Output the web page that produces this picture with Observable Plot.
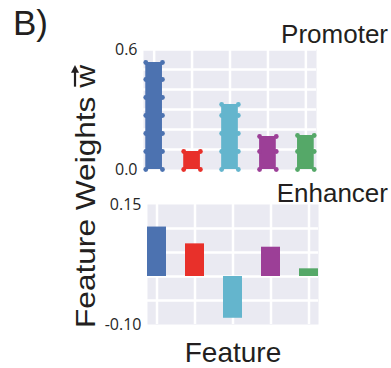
<!DOCTYPE html>
<html>
<head>
<meta charset="utf-8">
<script src="https://cdn.jsdelivr.net/npm/d3@7"></script>
<script src="https://cdn.jsdelivr.net/npm/@observablehq/plot@0.6"></script>
<style>
  html, body { margin: 0; padding: 0; background: #fff; }
  #fig { position: relative; width: 391px; height: 368px; overflow: hidden; }
  #fig > svg { position: absolute; left: 0; }
</style>
</head>
<body>
<div id="fig"></div>
<script>
// Feature weights per feature, for the two regulatory regions
const features = ["f1", "f2", "f3", "f4", "f5"];
const colors = ["#4C72B0", "#E8302A", "#64B5CD", "#9C3F97", "#55A868"];
const promoterWeights = [0.535, 0.09, 0.325, 0.165, 0.17];
const enhancerWeights = [0.103, 0.068, -0.087, 0.061, 0.016];

// Axis tick labels and grid positions
const promoterTicks = [0, 0.6];
const promoterGrid = [0.1, 0.2, 0.3, 0.4, 0.5, 0.6];
const enhancerTicks = [-0.10, 0.15];
const enhancerGrid = [-0.05, 0, 0.05, 0.10];
const featureGrid = [0, 1, 2, 3, 4];

const promoter = features.map((f, i) => ({i, feature: f, value: promoterWeights[i], color: colors[i]}));
const enhancer = features.map((f, i) => ({i, feature: f, value: enhancerWeights[i], color: colors[i]}));

// marker dots along the edges of each promoter bar
const halfP = 0.22;
const bumps = [];
for (const d of promoter) {
  const ys = [];
  for (let k = 0; k * 0.09 < d.value - 0.04; k++) ys.push(k * 0.09);
  ys.push(d.value);
  for (const y of ys) {
    bumps.push({x: d.i - halfP, y, color: d.color});
    bumps.push({x: d.i + halfP, y, color: d.color});
  }
}

const axisStyle = {fontFamily: "'Open Sans', sans-serif", fontSize: "16px", color: "#262626", background: "transparent"};
const bg = "#EAEAF2";

const promoterPlot = Plot.plot({
  width: 391, height: 180,
  marginLeft: 143, marginRight: 75, marginTop: 49, marginBottom: 11,
  style: axisStyle,
  x: {domain: [-0.28, 4.28], axis: null},
  y: {domain: [0, 0.6], ticks: promoterTicks, tickFormat: d => d.toFixed(1), tickSize: 0, tickPadding: 6, label: null},
  color: {type: "identity"},
  marks: [
    Plot.frame({fill: bg, stroke: null}),
    Plot.gridY(promoterGrid, {stroke: "white", strokeOpacity: 1, strokeWidth: 2.5}),
    Plot.gridX(featureGrid, {stroke: "white", strokeOpacity: 1, strokeWidth: 2.5}),
    Plot.rect(promoter, {x1: d => d.i - halfP, x2: d => d.i + halfP, y1: 0, y2: "value", fill: "color"}),
    Plot.dot(bumps, {x: "x", y: "y", r: 2.4, fill: "color", stroke: null})
  ]
});
promoterPlot.style.top = "0px";

const halfE = 0.25;
const enhancerPlot = Plot.plot({
  width: 391, height: 150,
  marginLeft: 147, marginRight: 73, marginTop: 14, marginBottom: 16,
  style: axisStyle,
  x: {domain: [-0.25, 4.25], axis: null},
  y: {domain: [-0.10, 0.15], ticks: enhancerTicks, tickFormat: d => d.toFixed(2), tickSize: 0, tickPadding: 6, label: null},
  color: {type: "identity"},
  marks: [
    Plot.frame({fill: bg, stroke: null}),
    Plot.gridY(enhancerGrid, {stroke: "white", strokeOpacity: 1, strokeWidth: 2.5}),
    Plot.gridX(featureGrid, {stroke: "white", strokeOpacity: 1, strokeWidth: 2.5}),
    Plot.rect(enhancer, {x1: d => d.i - halfE, x2: d => d.i + halfE, y1: 0, y2: "value", fill: "color"})
  ]
});
enhancerPlot.style.top = "190px";

const fig = document.getElementById("fig");
fig.appendChild(promoterPlot);
fig.appendChild(enhancerPlot);

// Panel letter, panel titles and shared axis labels
const svg = d3.select(fig).append("svg")
  .attr("width", 391).attr("height", 368)
  .style("top", "0px")
  .style("pointer-events", "none")
  .attr("font-family", "'Liberation Sans', Arial, sans-serif")
  .attr("fill", "#231F20");

svg.append("text").attr("x", 13).attr("y", 35).attr("font-size", 35).text("B)");
svg.append("text").attr("x", 388).attr("y", 43).attr("font-size", 26).attr("text-anchor", "end").text("Promoter");
svg.append("text").attr("x", 388).attr("y", 202).attr("font-size", 26).attr("text-anchor", "end").text("Enhancer");
svg.append("text").attr("x", 233).attr("y", 362).attr("font-size", 28).attr("text-anchor", "middle").text("Feature");

const g = svg.append("g").attr("transform", "translate(95,328) rotate(-90) scale(1.13,1)");
const ylab = g.append("text").attr("x", 0).attr("y", 0).attr("font-size", 28).text("Feature Weights w");
// vector arrow over the w
const node = ylab.node();
const wi = 16;
const x0 = node.getStartPositionOfChar(wi).x;
const x1 = node.getEndPositionOfChar(wi).x;
const ay = -20;
g.append("line").attr("x1", x0 + 1).attr("x2", x1 - 5).attr("y1", ay).attr("y2", ay)
  .attr("stroke", "#231F20").attr("stroke-width", 2.2);
g.append("path").attr("d", `M${x1 - 7},${ay - 4}L${x1},${ay}L${x1 - 7},${ay + 4}Z`).attr("fill", "#231F20");
</script>
</body>
</html>
